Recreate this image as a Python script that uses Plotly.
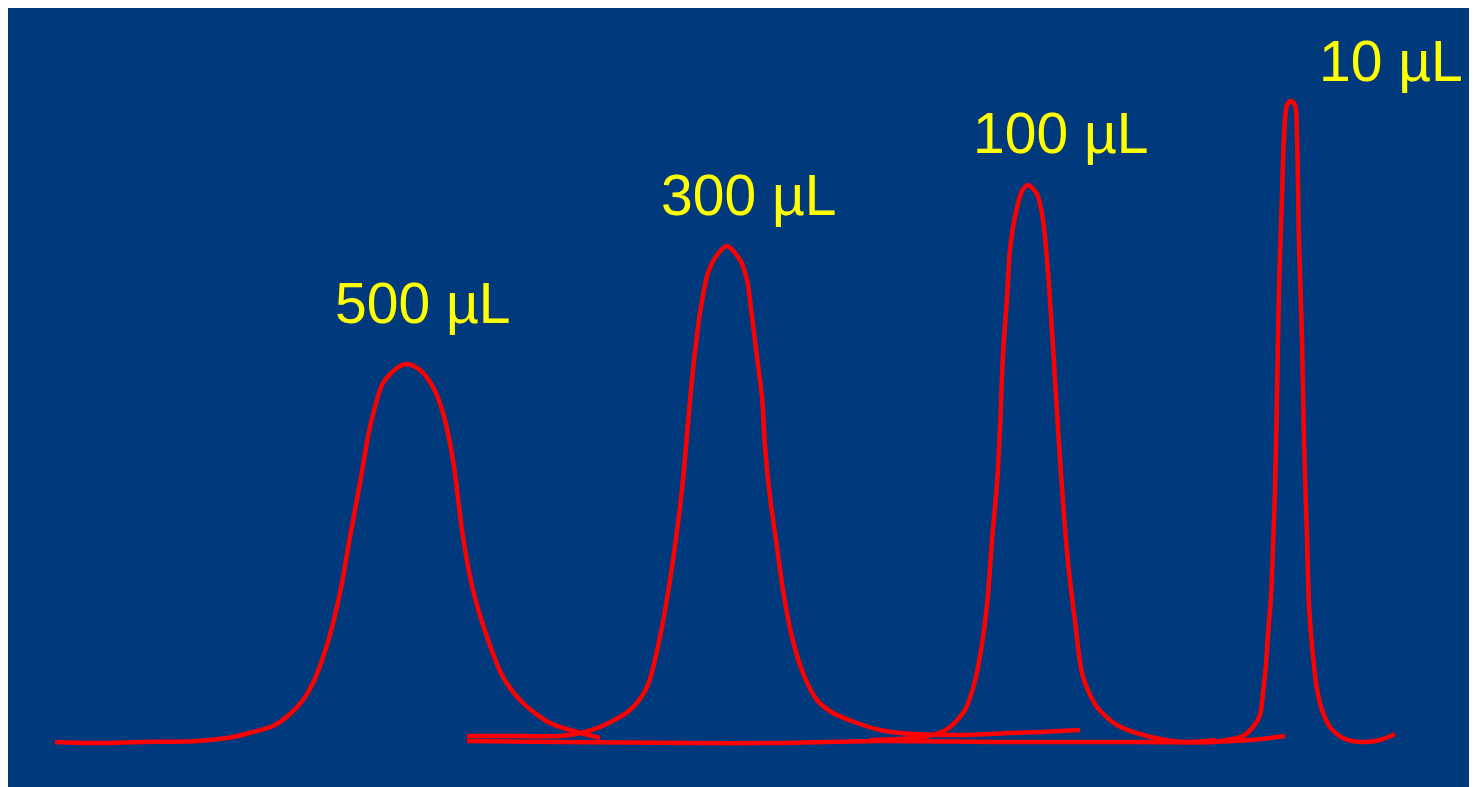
import plotly.graph_objects as go

# traces (x, y in the picture's own units, y grows downward)
x_500 = [55, 90, 140, 197, 233, 253, 273, 290, 303, 313, 327, 340, 350, 360, 370, 383, 397, 407,
         420, 433, 443, 453, 463, 473, 487, 503, 523, 550, 577, 600]
y_500 = [742, 743, 742, 741, 737, 732, 726, 714, 700, 683, 645, 593, 537, 483, 427, 383, 368, 364,
         370, 387, 413, 460, 537, 590, 637, 677, 703, 723, 732, 738]

x_300 = [467, 520, 560, 580, 600, 630, 647, 660, 670, 678, 683, 688, 693, 700, 708, 717, 727,
         740, 747, 752, 757, 762, 765, 770, 777, 783, 792, 803, 817, 833, 857, 880, 900,
         960, 1010, 1040, 1080]
y_300 = [736, 736, 736, 733, 727, 710, 687, 637, 580, 523, 480, 423, 370, 313, 273, 255, 246,
         260, 280, 317, 357, 397, 447, 497, 547, 590, 637, 673, 700, 713, 723, 730, 733,
         735, 733, 732, 730]

x_base = [467, 560, 690, 780, 880, 1000, 1100, 1200, 1250, 1285]
y_base = [741, 742, 743, 743, 741, 742, 742, 742, 740, 736]

x_100 = [870, 900, 933, 950, 965, 975, 982, 988, 992, 997, 1000, 1003, 1007, 1010, 1015, 1022, 1028,
         1037, 1043, 1048, 1053, 1058, 1063, 1068, 1075, 1083, 1097, 1117, 1147, 1183, 1215]
y_100 = [740, 739, 735, 727, 710, 681, 644, 595, 540, 484, 428, 354, 298, 250, 217, 191, 185,
         194, 220, 272, 347, 428, 502, 562, 621, 677, 707, 725, 736, 742, 740]

x_10 = [1180, 1213, 1227, 1243, 1253, 1260, 1263, 1266, 1268, 1271, 1273, 1275, 1277, 1279, 1282,
        1284, 1287, 1291, 1295, 1297, 1299, 1302, 1304, 1307, 1309, 1313, 1317, 1322, 1330,
        1343, 1360, 1380, 1395]
y_10 = [742, 742, 740, 736, 727, 715, 693, 664, 634, 597, 546, 491, 394, 289, 196,
        137, 105, 101, 105, 137, 242, 339, 440, 537, 605, 656, 689, 710, 727,
        738, 742, 740, 734]

labels = ["500 µL", "300 µL", "100 µL", "10 µL"]
label_x = [422, 748, 1060, 1391]
label_y = [303, 195, 133, 61]

traces = [(x_500, y_500), (x_300, y_300), (x_base, y_base), (x_100, y_100), (x_10, y_10)]

fig = go.Figure()
for xs, ys in traces:
    fig.add_trace(
        go.Scatter(
            x=xs,
            y=ys,
            mode="lines",
            line=dict(color="#FF0000", width=4.5, shape="spline", smoothing=0.8),
            hoverinfo="skip",
        )
    )

for text, lx, ly in zip(labels, label_x, label_y):
    fig.add_annotation(
        x=lx,
        y=ly,
        text=text,
        showarrow=False,
        xanchor="center",
        yanchor="middle",
        font=dict(family="Liberation Sans, Arial, sans-serif", size=57, color="#FFFF00"),
    )

# the page body already adds an 8px white edge, so the plot fills the rest
fig.update_xaxes(range=[8, 1477], visible=False, fixedrange=True)
fig.update_yaxes(range=[787, 8], visible=False, fixedrange=True)
fig.update_layout(
    width=1469,
    height=779,
    margin=dict(l=0, r=0, t=0, b=0),
    paper_bgcolor="#FFFFFF",
    plot_bgcolor="#003A7D",
    showlegend=False,
)
fig.write_html("out.html")
